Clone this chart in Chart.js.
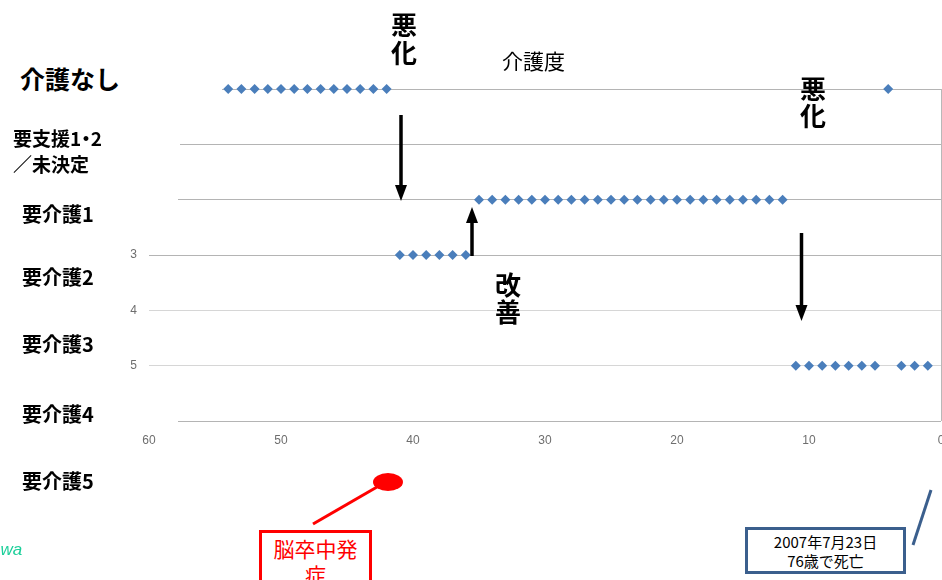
<!DOCTYPE html>
<html>
<head>
<meta charset="utf-8">
<script src="https://cdn.jsdelivr.net/npm/chart.js@4/dist/chart.umd.min.js"></script>
<style>
  html, body { margin: 0; padding: 0; background: #fff; }
  #wrap { position: relative; width: 942px; height: 580px; overflow: hidden; background: #fff; }
  #c { position: absolute; left: 0; top: 0; }
  .lbl { position: absolute; font-family: "Noto Sans CJK JP", sans-serif; color: #000; white-space: nowrap; }
  .cat { font-weight: bold; background: #fff; }
  .big { font-weight: bold; font-size: 26px; line-height: 28px; text-align: center; width: 32px; }
  .dot { font-feature-settings: "palt"; }
  svg { position: absolute; left: 0; top: 0; }
</style>
</head>
<body>
<div id="wrap">
  <canvas id="c" width="946" height="580"></canvas>
</div>
<script>
// ---- data ----
const xTickValues = [60, 50, 40, 30, 20, 10, 0];
const monthsBefore = [
  54, 53, 52, 51, 50, 49, 48, 47, 46, 45, 44, 43, 42,
  41, 40, 39, 38, 37, 36,
  35, 34, 33, 32, 31, 30, 29, 28, 27, 26, 25, 24, 23, 22, 21, 20, 19, 18, 17, 16, 15, 14, 13, 12,
  11, 10, 9, 8, 7, 6, 5,
  4,
  3, 2, 1
];
const careLevel = [
  0, 0, 0, 0, 0, 0, 0, 0, 0, 0, 0, 0, 0,
  3, 3, 3, 3, 3, 3,
  2, 2, 2, 2, 2, 2, 2, 2, 2, 2, 2, 2, 2, 2, 2, 2, 2, 2, 2, 2, 2, 2, 2, 2,
  5, 5, 5, 5, 5, 5, 5,
  0,
  5, 5, 5
];
const yTickLabels = ['', '', '', '3', '4', '5', ''];
const categoryNames = ['介護なし', '要支援1・2', '／未決定', '要介護1', '要介護2', '要介護3', '要介護4', '要介護5'];
const axisTitle = '介護度';
const noteWorse = '悪化';
const noteBetter = '改善';
const noteOnset = ['脳卒中発', '症'];
const noteDeath = ['2007年7月23日', '76歳で死亡'];

// ---- chart ----
const points = monthsBefore.map((m, i) => ({ x: m, y: careLevel[i] }));

new Chart(document.getElementById('c'), {
  type: 'scatter',
  data: {
    datasets: [{
      data: points,
      pointStyle: 'rectRot',
      pointRadius: 5,
      pointBackgroundColor: '#4a7ebb',
      pointBorderColor: '#4a7ebb',
      pointBorderWidth: 0,
      showLine: false,
      clip: false
    }]
  },
  options: {
    responsive: false,
    animation: false,
    devicePixelRatio: 1,
    layout: { padding: { left: 129, right: 0, top: 89, bottom: 119 } },
    plugins: { legend: { display: false }, tooltip: { enabled: false } },
    scales: {
      x: {
        type: 'linear', min: 0, max: 60, reverse: true,
        afterBuildTicks: s => { s.ticks = xTickValues.map(v => ({ value: v })); },
        afterFit: s => { s.height = 40; s.paddingLeft = 0; s.paddingRight = 0; },
        border: { display: false },
        grid: {
          drawTicks: false,
          color: ctx => (ctx.tick && ctx.tick.value === 0) ? '#b8b8b8' : 'rgba(0,0,0,0)'
        },
        ticks: { padding: 12, color: '#6e6e6e', font: { family: 'Liberation Sans', size: 12 } }
      },
      y: {
        type: 'linear', min: 0, max: 6, reverse: true,
        afterFit: s => { s.width = 20; s.paddingTop = 0; s.paddingBottom = 0; },
        border: { display: false },
        grid: {
          drawTicks: false,
          color: ctx => {
            const v = ctx.tick ? ctx.tick.value : 0;
            return (v === 4 || v === 5) ? '#d6d6d6' : '#b4b4b4';
          }
        },
        ticks: {
          stepSize: 1, padding: 12, color: '#6e6e6e',
          font: { family: 'Liberation Sans', size: 12 },
          callback: v => yTickLabels[v] || ''
        }
      }
    }
  }
});

// ---- overlay text & annotations ----
const wrap = document.getElementById('wrap');
function addDiv(text, css, cls) {
  const d = document.createElement('div');
  d.className = 'lbl ' + (cls || '');
  d.innerHTML = text;
  Object.assign(d.style, css);
  wrap.appendChild(d);
  return d;
}
// category label boxes (white background, they cover the left ends of some gridlines)
addDiv(categoryNames[0], { left: '0px', top: '56px', width: '222px', height: '44px', fontSize: '25px', lineHeight: '44px', paddingLeft: '20px', boxSizing: 'border-box' }, 'cat');
addDiv('<span class="dot">' + categoryNames[1] + '</span><br>' + categoryNames[2], { left: '0px', top: '122px', width: '180px', height: '56px', fontSize: '19px', lineHeight: '26px', paddingLeft: '13px', boxSizing: 'border-box', paddingTop: '3px' }, 'cat');
addDiv(categoryNames[3], { left: '0px', top: '196px', width: '178px', height: '36px', fontSize: '20px', lineHeight: '36px', paddingLeft: '22px', boxSizing: 'border-box' }, 'cat');
addDiv(categoryNames[4], { left: '0px', top: '259px', width: '140px', height: '36px', fontSize: '20px', lineHeight: '36px', paddingLeft: '22px', boxSizing: 'border-box' }, 'cat');
addDiv(categoryNames[5], { left: '0px', top: '326px', width: '120px', height: '36px', fontSize: '20px', lineHeight: '36px', paddingLeft: '22px', boxSizing: 'border-box' }, 'cat');
addDiv(categoryNames[6], { left: '0px', top: '396px', width: '178px', height: '36px', fontSize: '20px', lineHeight: '36px', paddingLeft: '22px', boxSizing: 'border-box' }, 'cat');
addDiv(categoryNames[7], { left: '0px', top: '463px', width: '120px', height: '36px', fontSize: '20px', lineHeight: '36px', paddingLeft: '22px', boxSizing: 'border-box' }, 'cat');

addDiv(axisTitle, { left: '502px', top: '46px', fontSize: '21px', lineHeight: '28px' });
addDiv(noteWorse.split('').join('<br>'), { left: '388px', top: '10px' }, 'big');
addDiv(noteWorse.split('').join('<br>'), { left: '797px', top: '74px', lineHeight: '27px' }, 'big');
addDiv(noteBetter.split('').join('<br>'), { left: '492px', top: '270px', lineHeight: '27px' }, 'big');

// onset box (red)
addDiv(noteOnset.join('<br>'), {
  left: '259px', top: '530px', width: '113px', height: '70px', boxSizing: 'border-box',
  border: '3px solid #ff0000', color: '#ff0000', fontSize: '21px', lineHeight: '26px',
  textAlign: 'center', paddingTop: '2px', background: '#fff'
});
// death box (blue)
addDiv(noteDeath.join('<br>'), {
  left: '745px', top: '527px', width: '161px', height: '47px', boxSizing: 'border-box',
  border: '3px solid #3b5f8d', color: '#000', fontSize: '15px', lineHeight: '19px',
  textAlign: 'center', paddingTop: '2px', background: '#fff'
});
// green partial text at left edge
addDiv('awa', { left: '-9px', top: '540px', fontFamily: 'Liberation Sans, sans-serif', fontStyle: 'italic', fontSize: '17px', color: '#1ccf9a' });

// arrows, ellipse and connector lines
const svgNS = 'http://www.w3.org/2000/svg';
const svg = document.createElementNS(svgNS, 'svg');
svg.setAttribute('width', '942');
svg.setAttribute('height', '580');
svg.innerHTML = `
  <line x1="401" y1="115" x2="401" y2="188" stroke="#000" stroke-width="3.5"/>
  <polygon points="395,185 407,185 401,201" fill="#000"/>
  <line x1="472" y1="256" x2="472" y2="220" stroke="#000" stroke-width="3.5"/>
  <polygon points="466,223 478,223 472,207" fill="#000"/>
  <line x1="801.5" y1="233" x2="801.5" y2="308" stroke="#000" stroke-width="3.5"/>
  <polygon points="795.5,305 807.5,305 801.5,321" fill="#000"/>
  <ellipse cx="388" cy="482" rx="15" ry="9" fill="#ff0000"/>
  <line x1="377" y1="487" x2="313" y2="524" stroke="#ff0000" stroke-width="3"/>
  <line x1="931" y1="490" x2="913" y2="545" stroke="#3b5f8d" stroke-width="3"/>
`;
wrap.appendChild(svg);
</script>
</body>
</html>
